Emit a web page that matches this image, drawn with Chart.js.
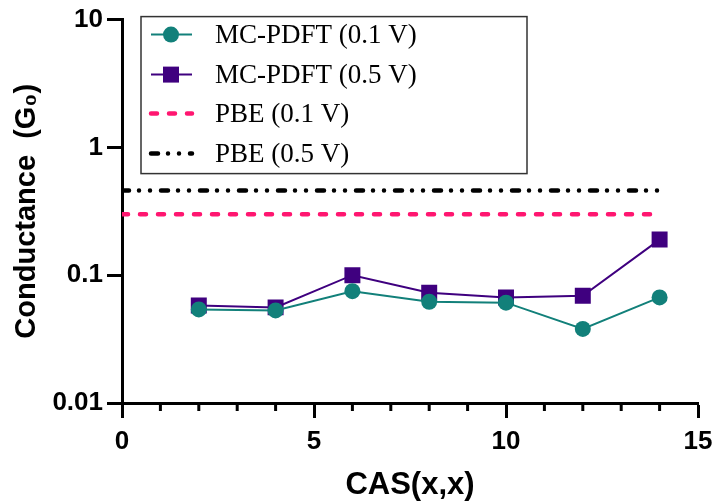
<!doctype html>
<html lang="en">
<head>
<meta charset="utf-8">
<title>Conductance vs CAS(x,x)</title>
<style>
  html, body {margin: 0; padding: 0; background: #fff;}
  #wrap {width: 713px; height: 502px;}
</style>
<script src="https://cdn.jsdelivr.net/npm/chart.js@4.4.1/dist/chart.umd.min.js"></script>
</head>
<body>
<div id="wrap"><canvas id="myChart" width="713" height="502"></canvas></div>

<script>
// values
var casSize = [2, 4, 6, 8, 10, 12, 14];
var mcpdft01 = [0.054, 0.053, 0.075, 0.062, 0.061, 0.038, 0.067];
var mcpdft05 = [0.058, 0.056, 0.100, 0.073, 0.067, 0.069, 0.190];
var pbeRange = [0, 14];
var pbe01 = 0.30;
var pbe05 = 0.46;
var yTicks = [0.01, 0.1, 1, 10];
var xMajor = [0, 5, 10, 15];
var labels = ["MC-PDFT (0.1 V)", "MC-PDFT (0.5 V)", "PBE (0.1 V)", "PBE (0.5 V)"];

var TEAL = "#12807a", PURPLE = "#3f007f", PINK = "#ff1670", BLACK = "#000";
var tickFont = {family: "'Liberation Sans', Arial, sans-serif", size: 26, weight: "bold"};
var titleFont = {family: "'Liberation Sans', Arial, sans-serif", size: 29, weight: "bold"};

function pts(xs, ys) {
  return xs.map(function (x, i) { return {x: x, y: ys[i]}; });
}
function flat(v) {
  return pbeRange.map(function (x) { return {x: x, y: v}; });
}

var dashDotDot = [7, 10, 0, 11, 0, 11];
var dashPink = [6, 12];

// minor x ticks (shorter) + framed legend inside the plot
var extras = {
  id: "extras",
  afterDraw: function (chart) {
    var ctx = chart.ctx, xs = chart.scales.x, area = chart.chartArea;
    ctx.save();
    ctx.strokeStyle = "#000";
    ctx.lineWidth = 3;
    for (var i = xs.min; i <= xs.max; i++) {
      if (xMajor.indexOf(i) >= 0) continue;
      var px = xs.getPixelForValue(i);
      ctx.beginPath();
      ctx.moveTo(px, area.bottom);
      ctx.lineTo(px, area.bottom + 8);
      ctx.stroke();
    }

    // legend box
    var bx = area.left + 19, by = area.top - 3, bw = 386, bh = 157;
    ctx.lineWidth = 1.5;
    ctx.strokeStyle = "#333";
    ctx.strokeRect(bx, by, bw, bh);
    var rows = [18, 58, 97, 137];
    var sx0 = bx + 10, sx1 = bx + 51, mx = bx + 30;
    ctx.font = "27px 'Liberation Serif', 'Times New Roman', serif";
    ctx.textBaseline = "middle";
    chart.data.datasets.forEach(function (ds, k) {
      var yy = by + rows[k];
      ctx.beginPath();
      ctx.strokeStyle = ds.borderColor;
      ctx.lineWidth = ds.borderWidth;
      ctx.lineCap = ds.borderCapStyle || "butt";
      ctx.setLineDash(ds.borderDash || []);
      ctx.moveTo(sx0, yy);
      ctx.lineTo(sx1, yy);
      ctx.stroke();
      ctx.setLineDash([]);
      if (ds.pointRadius > 0) {
        ctx.fillStyle = ds.pointBackgroundColor;
        ctx.beginPath();
        if (ds.pointStyle === "rect") {
          var h = ds.pointRadius * Math.SQRT1_2;
          ctx.rect(mx - h, yy - h, 2 * h, 2 * h);
        } else {
          ctx.arc(mx, yy, ds.pointRadius, 0, Math.PI * 2);
        }
        ctx.fill();
      }
      ctx.fillStyle = "#000";
      ctx.fillText(ds.label, bx + 74, yy + 1);
    });
    ctx.restore();
  }
};

var ctx = document.getElementById("myChart").getContext("2d");
var myChart = new Chart(ctx, {
  type: "line",
  data: {
    datasets: [{
      label: labels[0],
      data: pts(casSize, mcpdft01),
      borderColor: TEAL, backgroundColor: TEAL,
      pointBackgroundColor: TEAL, pointBorderColor: TEAL,
      borderWidth: 2, pointRadius: 8, pointBorderWidth: 0,
      pointStyle: "circle", order: 1
    }, {
      label: labels[1],
      data: pts(casSize, mcpdft05),
      borderColor: PURPLE, backgroundColor: PURPLE,
      pointBackgroundColor: PURPLE, pointBorderColor: PURPLE,
      borderWidth: 2, pointRadius: 11.3, pointBorderWidth: 0,
      pointStyle: "rect", order: 2
    }, {
      label: labels[2],
      data: flat(pbe01),
      borderColor: PINK, borderWidth: 4.5, borderDash: dashPink,
      borderCapStyle: "round", pointRadius: 0, order: 3
    }, {
      label: labels[3],
      data: flat(pbe05),
      borderColor: BLACK, borderWidth: 4.5, borderDash: dashDotDot,
      borderCapStyle: "round", pointRadius: 0, order: 4
    }]
  },
  options: {
    responsive: false,
    animation: false,
    layout: {padding: {top: 17, right: 15, left: 0, bottom: 0}},
    plugins: {legend: {display: false}, tooltip: {enabled: false}},
    elements: {line: {tension: 0, fill: false}},
    scales: {
      x: {
        type: "linear", min: 0, max: 15,
        border: {color: "#000", width: 3},
        grid: {
          drawOnChartArea: false, drawTicks: true, tickLength: 15, tickWidth: 3,
          tickColor: function (c) { return xMajor.indexOf(c.tick.value) >= 0 ? "#000" : "rgba(0,0,0,0)"; }
        },
        ticks: {
          stepSize: 1, color: "#000", font: tickFont, padding: 8, maxRotation: 0, autoSkip: false,
          callback: function (v) { return xMajor.indexOf(v) >= 0 ? String(v) : ""; }
        },
        title: {display: true, text: "CAS(x,x)", color: "#000",
                font: {family: titleFont.family, size: 31, weight: "bold"}, padding: {top: 0, bottom: -2}},
        afterFit: function (s) { s.height = 99; s.paddingRight = 0; s.paddingLeft = 0; }
      },
      y: {
        type: "logarithmic", min: 0.01, max: 10,
        border: {color: "#000", width: 3},
        grid: {drawOnChartArea: false, drawTicks: true, tickLength: 15, tickWidth: 3, tickColor: "#000"},
        afterBuildTicks: function (s) {
          s.ticks = yTicks.map(function (v) { return {value: v}; });
        },
        ticks: {
          color: "#000", font: tickFont, padding: 4,
          callback: function (v) { return String(v); }
        },
        title: {display: true, text: "Conductance  (G\u2080)", color: "#000",
                font: titleFont, padding: {top: 10, bottom: 0}},
        afterFit: function (s) { s.width = 122; }
      }
    }
  },
  plugins: [extras]
});
</script>
</body>
</html>
